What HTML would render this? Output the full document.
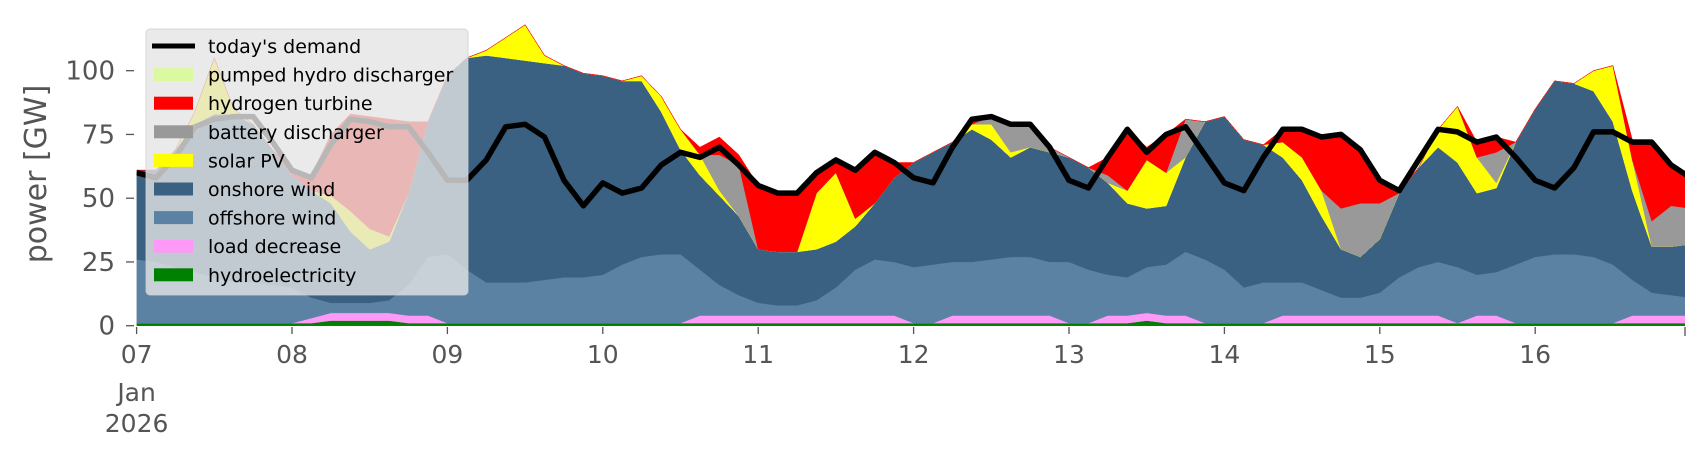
<!DOCTYPE html>
<html><head><meta charset="utf-8"><style>
html,body{margin:0;padding:0;background:#fff;}
svg{display:block;font-family:"DejaVu Sans","Liberation Sans",sans-serif;}
</style></head><body>
<svg id="chart" width="1706" height="460" viewBox="0 0 1706 460" xmlns="http://www.w3.org/2000/svg">
<defs><clipPath id="plotclip"><rect x="136.6" y="0" width="1548.4" height="330"/></clipPath></defs>
<g id="areas" clip-path="url(#plotclip)"></g>
<g id="axes"></g>
<text transform="translate(46,174) rotate(-90)" text-anchor="middle" font-size="30" fill="#555">power [GW]</text>
<g id="legend"></g>
</svg>
<script>
const days = [];
for (let i = 0; i <= 80; i++) days.push(i / 8);
const demand = [60,58,66,78,81,82,82,72, 61,58,71,81,80,78,78,68, 57,57,65,78,79,74,57,47, 56,52,54,63,68,66,70,63, 55,52,52,60,65,61,68,64, 58,56,70,81,82,79,79,70, 57,54,66,77,68,75,78,67, 56,53,66,77,77,74,75,69, 57,53,65,77,76,72,74,66, 57,54,62,76,76,72,72,63, 58];
const hydro = [1,1,1,1,1,1,1,1, 1,1,2,2,2,2,1,1, 1,1,1,1,1,1,1,1, 1,1,1,1,1,1,1,1, 1,1,1,1,1,1,1,1, 1,1,1,1,1,1,1,1, 1,1,1,1,2,1,1,1, 1,1,1,1,1,1,1,1, 1,1,1,1,1,1,1,1, 1,1,1,1,1,1,1,1, 1];
const loadDecrease = [0,0,0,0,0,0,0,0, 0,2,3,3,3,3,3,3, 0,0,0,0,0,0,0,0, 0,0,0,0,0,3,3,3, 3,3,3,3,3,3,3,3, 0,0,3,3,3,3,3,3, 0,0,3,3,3,3,3,0, 0,0,0,3,3,3,3,3, 3,3,3,3,0,3,3,0, 0,0,0,0,0,3,3,3, 3];
const offshore = [25,24,22,20,18,16,16,15, 14,8,4,4,4,5,12,23, 27,21,16,16,16,17,18,18, 19,23,26,27,27,18,12,8, 5,4,4,6,11,18,22,21, 22,23,21,21,22,23,23,21, 24,21,16,15,18,20,25,25, 21,14,16,13,13,10,7,7, 9,15,19,21,22,16,17,23, 26,27,27,26,23,14,9,8, 7];
const onshore = [35,36,46,58,64,66,62,53, 44,42,39,28,21,23,36,53, 70,83,89,88,87,85,83,80, 78,72,69,56,41,37,35,31, 21,21,21,20,18,17,22,33, 41,44,47,52,47,39,43,43, 41,40,36,29,23,23,37,54, 60,58,54,49,40,29,19,16, 21,33,39,45,41,32,33,48, 58,68,67,65,56,35,18,19, 21];
const pumpedHydro = [0,0,0,0,0,0,0,0, 0,0,0,0,0,0,0,0, 0,0,0,0,0,0,0,0, 0,0,0,0,0,0,0,0, 0,0,0,0,0,0,0,0, 0,0,0,0,0,0,0,0, 0,0,0,0,0,0,0,0, 0,0,0,0,0,0,0,0, 0,0,0,0,0,0,0,0, 0,0,0,0,0,0,0,0, 0];
const solar = [0,0,0,5,22,2,0,0, 0,0,3,8,8,2,0,0, 0,0,2,8,14,3,0,0, 0,0,2,6,8,8,2,0, 0,0,0,22,27,3,0,0, 0,0,0,2,6,2,0,0, 0,0,0,5,19,13,0,0, 0,0,0,6,9,10,0,0, 0,0,0,7,22,14,2,0, 0,0,0,8,22,12,0,0, 0];
const battery = [0,0,0,0,0,0,0,0, 0,0,0,0,0,0,0,0, 0,0,0,0,0,0,0,0, 0,0,0,0,0,0,14,20, 0,0,0,0,0,0,0,0, 0,0,0,0,3,11,9,2, 0,0,3,0,0,0,15,0, 0,0,0,0,0,0,16,21, 14,0,0,0,0,0,12,0, 0,0,0,0,0,0,10,16, 14];
const hydrogen = [0,0,0,0,0,0,0,0, 3,6,24,38,44,46,28,0, 0,0,0,0,0,0,0,0, 0,0,0,0,0,3,7,4, 25,23,23,8,5,19,20,6, 0,0,0,2,0,0,0,0, 0,0,7,24,5,15,0,0, 0,0,0,5,11,22,29,21, 9,1,0,0,0,6,6,0, 0,0,0,0,0,8,32,17, 13];
const yTicks = [0,25,50,75,100];
const xTickLabels = ["07","08","09","10","11","12","13","14","15","16"];

const X0 = 136.6, DAYPX = 155.4, Y0 = 325.7, GWPX = 2.55;
function xScale(d){ return X0 + DAYPX * d; }
function yScale(v){ return Y0 - GWPX * v; }
const NS = "http://www.w3.org/2000/svg";
function mk(tag, attrs, parent){ const e = document.createElementNS(NS, tag); for (const k in attrs) e.setAttribute(k, attrs[k]); parent.appendChild(e); return e; }

const layers = [
  {key:'hydroelectricity', data:hydro, color:'#008000'},
  {key:'load-decrease', data:loadDecrease, color:'#ff99f8'},
  {key:'offshore-wind', data:offshore, color:'#5b82a3'},
  {key:'onshore-wind', data:onshore, color:'#3a6082'},
  {key:'pumped-hydro', data:pumpedHydro, color:'#dbf9a0'},
  {key:'solar-pv', data:solar, color:'#ffff00'},
  {key:'battery-discharger', data:battery, color:'#999999'},
  {key:'hydrogen-turbine', data:hydrogen, color:'#ff0000'}
];
const areas = document.getElementById('areas');
let base = days.map(() => 0);
layers.forEach(L => {
  const top = base.map((b, i) => b + L.data[i]);
  let d = '';
  days.forEach((t, i) => { d += (i ? 'L' : 'M') + xScale(t).toFixed(1) + ',' + yScale(top[i]).toFixed(1); });
  for (let i = days.length - 1; i >= 0; i--) d += 'L' + xScale(days[i]).toFixed(1) + ',' + yScale(base[i]).toFixed(1);
  const p = mk('path', {d: d + 'Z', fill: L.color, stroke: L.color, 'stroke-width': 0.5}, areas);
  
  
  base = top;
});
let dl = '';
days.forEach((t, i) => { dl += (i ? 'L' : 'M') + xScale(t).toFixed(1) + ',' + yScale(demand[i]).toFixed(1); });
const dline = mk('path', {d: dl, fill: 'none', stroke: '#000', 'stroke-width': 5.5, 'stroke-linejoin': 'round'}, areas);



const axes = document.getElementById('axes');
yTicks.forEach(v => {
  const y = yScale(v);
  const tk = mk('line', {x1: 126, x2: 134, y1: y, y2: y, stroke: '#555', 'stroke-width': 1.3}, axes);
  
  
  const tx = mk('text', {x: 115, y: y + 9, 'text-anchor': 'end', 'font-size': 26, fill: '#555'}, axes);
  tx.textContent = String(v);
  
  
});
xTickLabels.forEach((lab, i) => {
  const x = xScale(i);
  const tk = mk('line', {x1: x, x2: x, y1: 327, y2: 334, stroke: '#555', 'stroke-width': 1.3}, axes);
  
  
  const tx = mk('text', {x: x, y: 363, 'text-anchor': 'middle', 'font-size': 25, fill: '#555'}, axes);
  tx.textContent = lab;
  
  
});
const endTk = mk('line', {x1: 1685, x2: 1685, y1: 327, y2: 336, stroke: '#555', 'stroke-width': 1.3}, axes);


[['Jan', 401], ['2026', 432]].forEach(([s, y]) => {
  const tx = mk('text', {x: xScale(0), y: y, 'text-anchor': 'middle', 'font-size': 25, fill: '#555'}, axes);
  tx.textContent = s;
  
  
});

const legend = document.getElementById('legend');
const lbg = mk('rect', {x: 146, y: 29, width: 322, height: 266, rx: 4, fill: '#e5e5e5', 'fill-opacity': 0.8, stroke: '#d0d0d0', 'stroke-opacity': 0.8}, legend);


const entries = [
  ["today's demand", '#000', true],
  ['pumped hydro discharger', '#dbf9a0', false],
  ['hydrogen turbine', '#ff0000', false],
  ['battery discharger', '#999999', false],
  ['solar PV', '#ffff00', false],
  ['onshore wind', '#3a6082', false],
  ['offshore wind', '#5b82a3', false],
  ['load decrease', '#ff99f8', false],
  ['hydroelectricity', '#008000', false]
];
entries.forEach(([lab, col, isLine], i) => {
  const cy = 46 + i * 28.6;
  const g = mk('g', {}, legend);
  
  
  if (isLine) mk('line', {x1: 152, x2: 195, y1: cy, y2: cy, stroke: col, 'stroke-width': 5}, g);
  else mk('rect', {x: 154, y: cy - 6.5, width: 39, height: 13, fill: col}, g);
  const t = mk('text', {x: 208, y: cy + 7, 'font-size': 19, fill: '#000'}, g);
  t.textContent = lab;
});
</script>
</body></html>
